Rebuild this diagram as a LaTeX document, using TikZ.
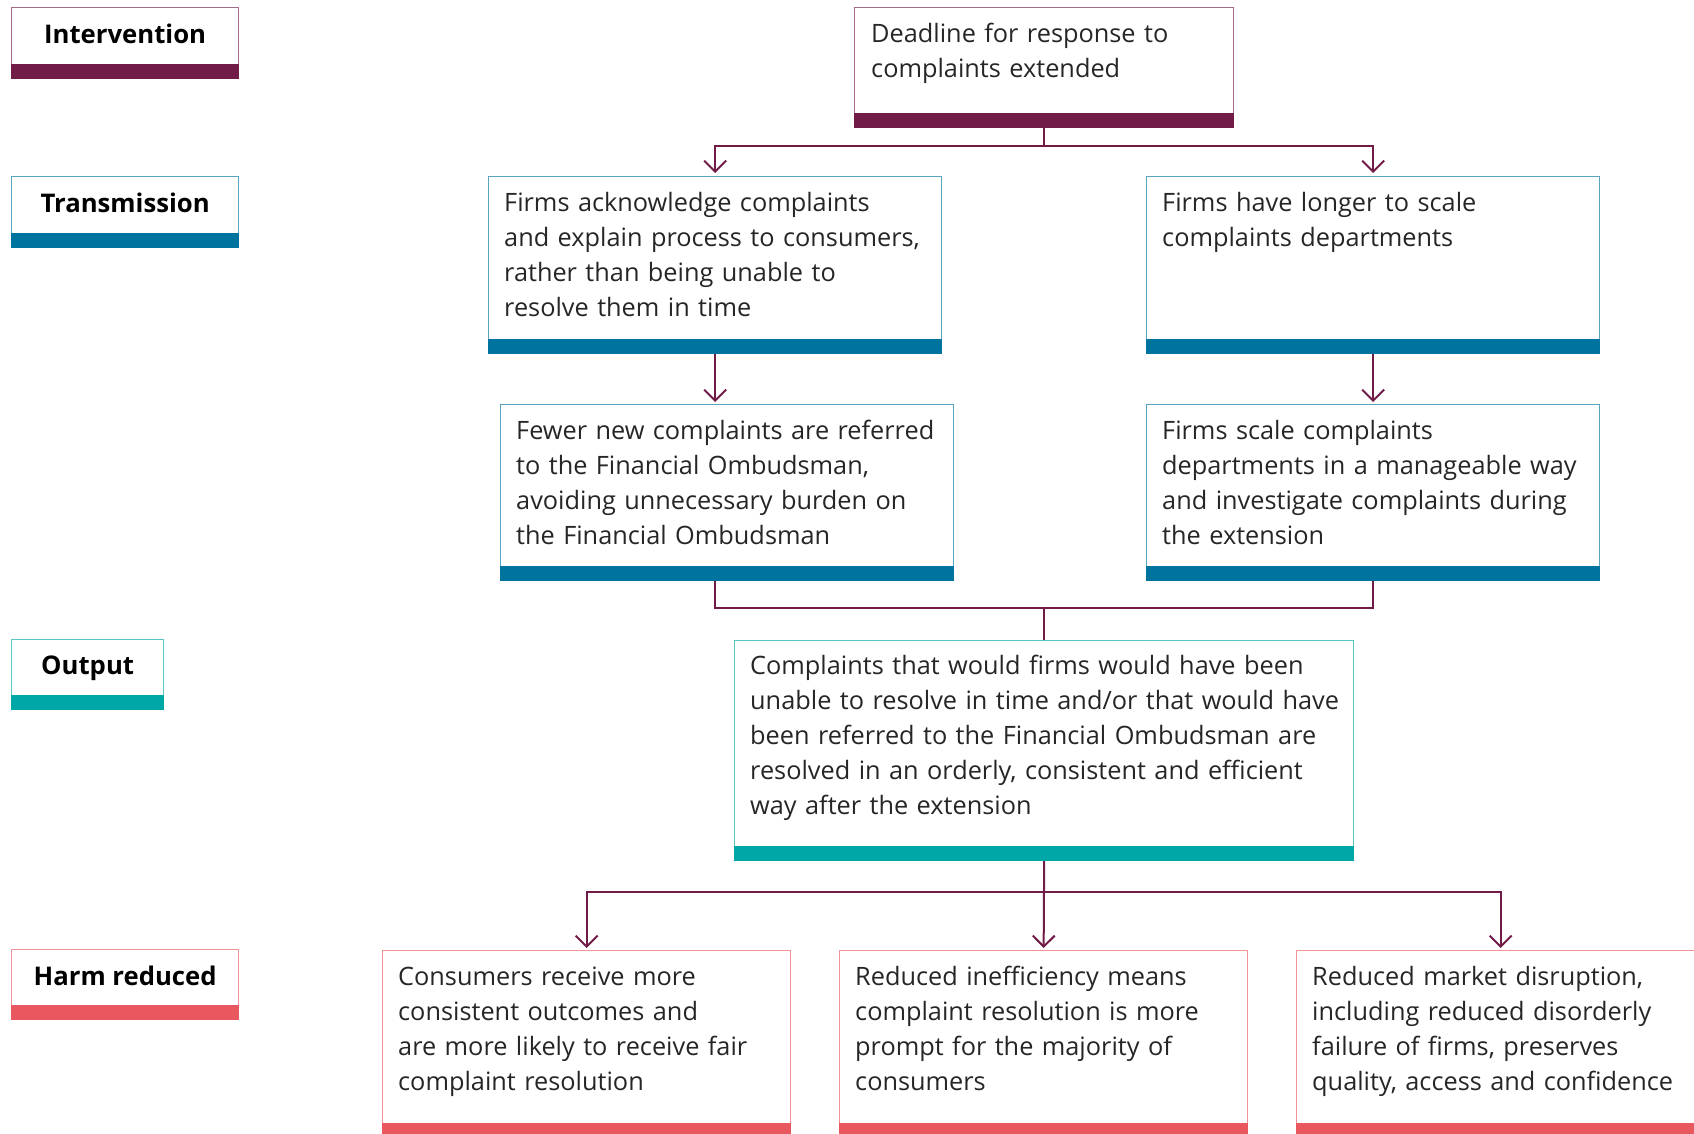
\documentclass[tikz,border=0pt]{standalone}
\usepackage{fontspec}
\setmainfont{Open Sans}
\usetikzlibrary{arrows.meta}
\definecolor{cint}{HTML}{711B47}
\definecolor{ctr}{HTML}{00739E}
\definecolor{cout}{HTML}{00A7A7}
\definecolor{charm}{HTML}{E9585F}
\definecolor{ctxt}{HTML}{262626}
\begin{document}
\begin{tikzpicture}[x=1pt,y=-1pt,
  bx/.style={draw=#1!65!white, line width=1.3pt, fill=white, inner sep=0pt, anchor=north west},
  txt/.style={anchor=base west, inner sep=0pt, align=left, text width=640pt, text=ctxt, font=\fontsize{25.3}{35}\selectfont},
  lbl/.style={anchor=base, inner sep=0pt, text=black, font=\fontsize{25.7}{35}\selectfont\bfseries},
  conn/.style={draw=cint, line width=2pt},
  arr/.style={conn, -{Straight Barb[length=11pt,width=22pt,line width=2pt]}}
]
\useasboundingbox (0,0) rectangle (1694,1133);
\clip (0,0) rectangle (1694,1133);

% side labels
\node[bx=cint, minimum width=227pt, minimum height=71pt] (lint) at (11,7) {};
\node[bx=ctr, minimum width=227pt, minimum height=71pt] (ltr) at (11,176) {};
\node[bx=cout, minimum width=152pt, minimum height=70pt] (lout) at (11,639) {};
\node[bx=charm, minimum width=227pt, minimum height=70pt] (lharm) at (11,949) {};

% boxes
\node[bx=cint, minimum width=379pt, minimum height=120pt] (int) at (854,7) {};
\node[bx=ctr, minimum width=453pt, minimum height=177pt] (t1) at (488,176) {};
\node[bx=ctr, minimum width=453pt, minimum height=177pt] (t2) at (1146,176) {};
\node[bx=ctr, minimum width=453pt, minimum height=176pt] (t3) at (500,404) {};
\node[bx=ctr, minimum width=453pt, minimum height=176pt] (t4) at (1146,404) {};
\node[bx=cout, minimum width=619pt, minimum height=220pt] (out) at (734,640) {};
\node[bx=charm, minimum width=408pt, minimum height=187pt] (h1) at (382,950) {};
\node[bx=charm, minimum width=408pt, minimum height=187pt] (h2) at (839,950) {};
\node[bx=charm, minimum width=408pt, minimum height=187pt] (h3) at (1296,950) {};

% bars
\foreach \n/\c in {lint/cint,ltr/ctr,lout/cout,lharm/charm,int/cint,t1/ctr,t2/ctr,t3/ctr,t4/ctr,out/cout,h1/charm,h2/charm,h3/charm}
  \fill[\c] ([yshift=15pt]\n.south west) rectangle (\n.south east);

% label texts
\node[lbl] (lint-t) at ([yshift=-36pt]lint.north) {Intervention};
\node[lbl] (ltr-t) at ([yshift=-36pt]ltr.north) {Transmission};
\node[lbl] (lout-t) at ([yshift=-35pt]lout.north) {Output};
\node[lbl] (lharm-t) at ([yshift=-36pt]lharm.north) {Harm reduced};

% box texts
\node[txt] (int-t) at ([xshift=17pt,yshift=-35pt]int.north west) {Deadline for response to\\complaints extended};
\node[txt] (t1-t) at ([xshift=16pt,yshift=-35pt]t1.north west) {Firms acknowledge complaints\\and explain process to consumers,\\rather than being unable to\\resolve them in time};
\node[txt] (t2-t) at ([xshift=16pt,yshift=-35pt]t2.north west) {Firms have longer to scale\\complaints departments};
\node[txt] (t3-t) at ([xshift=16pt,yshift=-35pt]t3.north west) {Fewer new complaints are referred\\to the Financial Ombudsman,\\avoiding unnecessary burden on\\the Financial Ombudsman};
\node[txt] (t4-t) at ([xshift=16pt,yshift=-35pt]t4.north west) {Firms scale complaints\\departments in a manageable way\\and investigate complaints during\\the extension};
\node[txt] (out-t) at ([xshift=16pt,yshift=-34pt]out.north west) {Complaints that would firms would have been\\unable to resolve in time and/or that would have\\been referred to the Financial Ombudsman are\\resolved in an orderly, consistent and efficient\\way after the extension};
\node[txt] (h1-t) at ([xshift=16pt,yshift=-35pt]h1.north west) {Consumers receive more\\consistent outcomes and\\are more likely to receive fair\\complaint resolution};
\node[txt] (h2-t) at ([xshift=16pt,yshift=-35pt]h2.north west) {Reduced inefficiency means\\complaint resolution is more\\prompt for the majority of\\consumers};
\node[txt] (h3-t) at ([xshift=16pt,yshift=-35pt]h3.north west) {Reduced market disruption,\\including reduced disorderly\\failure of firms, preserves\\quality, access and confidence};

% connectors
\draw[conn] (int.south) -- ++(0,18) coordinate (j1);
\draw[arr] (j1) -| ([yshift=3pt]t1.north);
\draw[arr] (j1) -| ([yshift=3pt]t2.north);
\draw[arr] (t1.south) -- ([yshift=2pt]t1.south |- t3.north);
\draw[arr] (t2.south) -- ([yshift=2pt]t4.north);
\coordinate (j2) at (out.north |- 0,608);
\draw[conn] (t1.south |- t3.south) |- (j2) -| (t4.south);
\draw[conn] (j2) -- (out.north);
\draw[conn] (out.south) -- ++(0,31) coordinate (j3);
\draw[arr] (j3) -| ([yshift=2pt]h1.north);
\draw[arr] (j3) -| ([yshift=2pt]h3.north);
\draw[arr] (out.south) -- ([yshift=2pt]h2.north);
\end{tikzpicture}
\end{document}
